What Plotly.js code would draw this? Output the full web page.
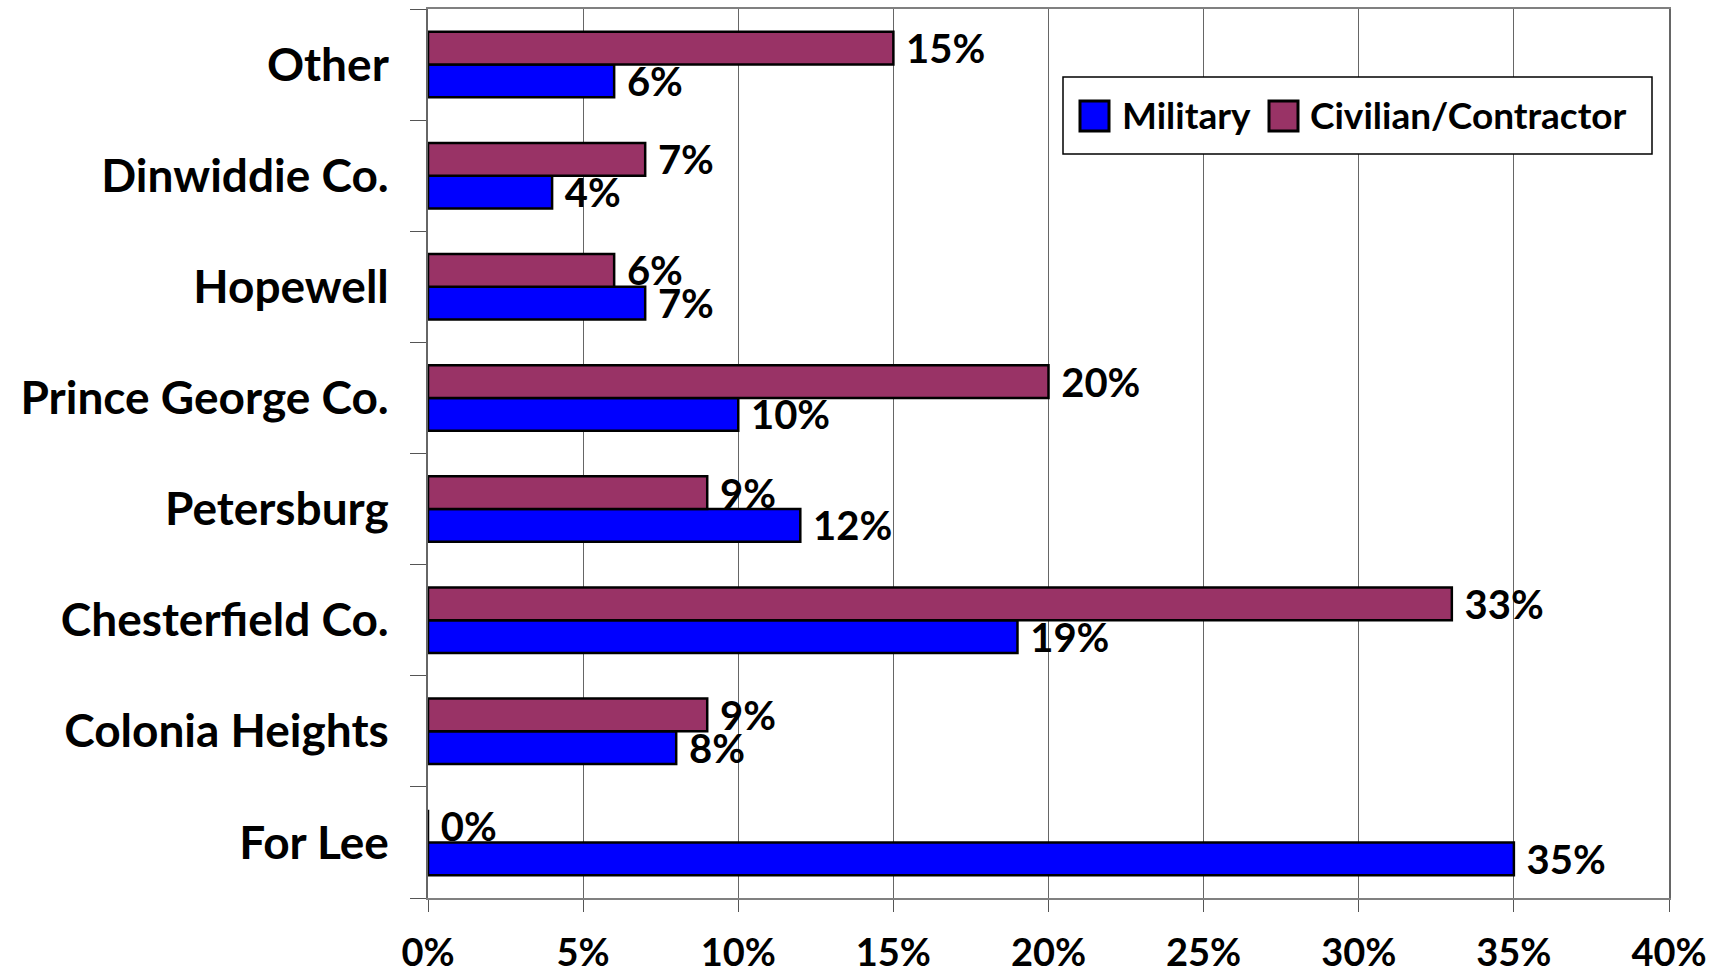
<!DOCTYPE html>
<html>
<head>
<meta charset="utf-8">
<script src="https://cdn.plot.ly/plotly-3.0.1.min.js"></script>
<style>html,body{margin:0;padding:0;background:#fff;}#chart{width:1722px;height:980px;}</style>
</head>
<body>
<div id="chart"></div>
<script>
const categories = ["For Lee", "Colonia Heights", "Chesterfield Co.", "Petersburg", "Prince George Co.", "Hopewell", "Dinwiddie Co.", "Other"];
const military = [35, 8, 19, 12, 10, 7, 4, 6];
const civilian = [0, 9, 33, 9, 20, 6, 7, 15];
const seriesNames = ["Military", "Civilian/Contractor"];
const seriesColors = ["#0000FF", "#993366"];
const xTicks = [0, 5, 10, 15, 20, 25, 30, 35, 40];
const xTickLabels = ["0%", "5%", "10%", "15%", "20%", "25%", "30%", "35%", "40%"];

const FONT = "Lato, 'Open Sans', 'DejaVu Sans', sans-serif";

// plot-area geometry in pixels (used only to place the hand-drawn legend box)
const W = 1722, H = 980, ML = 428, MR = 53, MT = 9, MB = 82;
const PW = W - ML - MR, PH = H - MT - MB;
const px = x => (x - ML) / PW;
const py = y => 1 - (y - MT) / PH;

function barTrace(name, values, color) {
  return {
    type: "bar",
    orientation: "h",
    name: name,
    y: categories,
    x: values,
    text: values.map(v => v + "%"),
    texttemplate: "\u00a0%{text}",
    textposition: "outside",
    constraintext: "none",
    cliponaxis: false,
    showlegend: false,
    textfont: {family: FONT, size: 40, color: "#000", weight: 700},
    marker: {color: color, line: {color: "#000", width: 2.5}},
    hoverinfo: "x+y"
  };
}

const data = [
  barTrace(seriesNames[0], military, seriesColors[0]),
  barTrace(seriesNames[1], civilian, seriesColors[1])
];

// legend drawn as box + swatches + text (bigger swatches than Plotly's built-in legend allows)
const LEG = {x0: 1063, x1: 1652, y0: 77, y1: 154};
const swatches = [
  {x0: 1080, x1: 1109, label: 1120},
  {x0: 1269, x1: 1298, label: 1308}
];
const shapes = [{
  type: "rect", xref: "paper", yref: "paper",
  x0: px(LEG.x0), x1: px(LEG.x1), y0: py(LEG.y1), y1: py(LEG.y0),
  fillcolor: "#fff", line: {color: "#000", width: 1.5}, layer: "above"
}];
const annotations = [];
swatches.forEach((s, i) => {
  shapes.push({
    type: "rect", xref: "paper", yref: "paper",
    x0: px(s.x0), x1: px(s.x1), y0: py(131), y1: py(101),
    fillcolor: seriesColors[i], line: {color: "#000", width: 3}, layer: "above"
  });
  annotations.push({
    xref: "paper", yref: "paper", x: px(s.label), y: py(115),
    xanchor: "left", yanchor: "middle", showarrow: false,
    text: seriesNames[i],
    font: {family: FONT, size: 37, color: "#000", weight: 700}
  });
});

const layout = {
  width: W, height: H,
  paper_bgcolor: "#fff", plot_bgcolor: "#fff",
  margin: {l: ML, r: MR, t: MT, b: MB},
  barmode: "group",
  bargap: 0.41,
  bargroupgap: 0,
  showlegend: false,
  shapes: shapes,
  annotations: annotations,
  xaxis: {
    range: [0, 40], tickmode: "array", tickvals: xTicks, ticktext: xTickLabels,
    showgrid: true, gridcolor: "#666", gridwidth: 1,
    zeroline: false,
    showline: true, linecolor: "#808080", linewidth: 2, mirror: true,
    ticks: "outside", ticklen: 12, tickcolor: "#555", tickwidth: 1,
    ticklabelstandoff: 8,
    tickfont: {family: FONT, size: 38, color: "#000", weight: 700},
    fixedrange: true
  },
  yaxis: {
    type: "category",
    showgrid: false, zeroline: false,
    showline: true, linecolor: "#666", linewidth: 2, mirror: true,
    ticks: "outside", tickson: "boundaries", ticklen: 16, tickcolor: "#555", tickwidth: 1,
    ticklabelstandoff: 28,
    tickfont: {family: FONT, size: 46, color: "#000", weight: 700},
    fixedrange: true
  }
};

Plotly.newPlot("chart", data, layout, {displayModeBar: false, staticPlot: true});
</script>
</body>
</html>
